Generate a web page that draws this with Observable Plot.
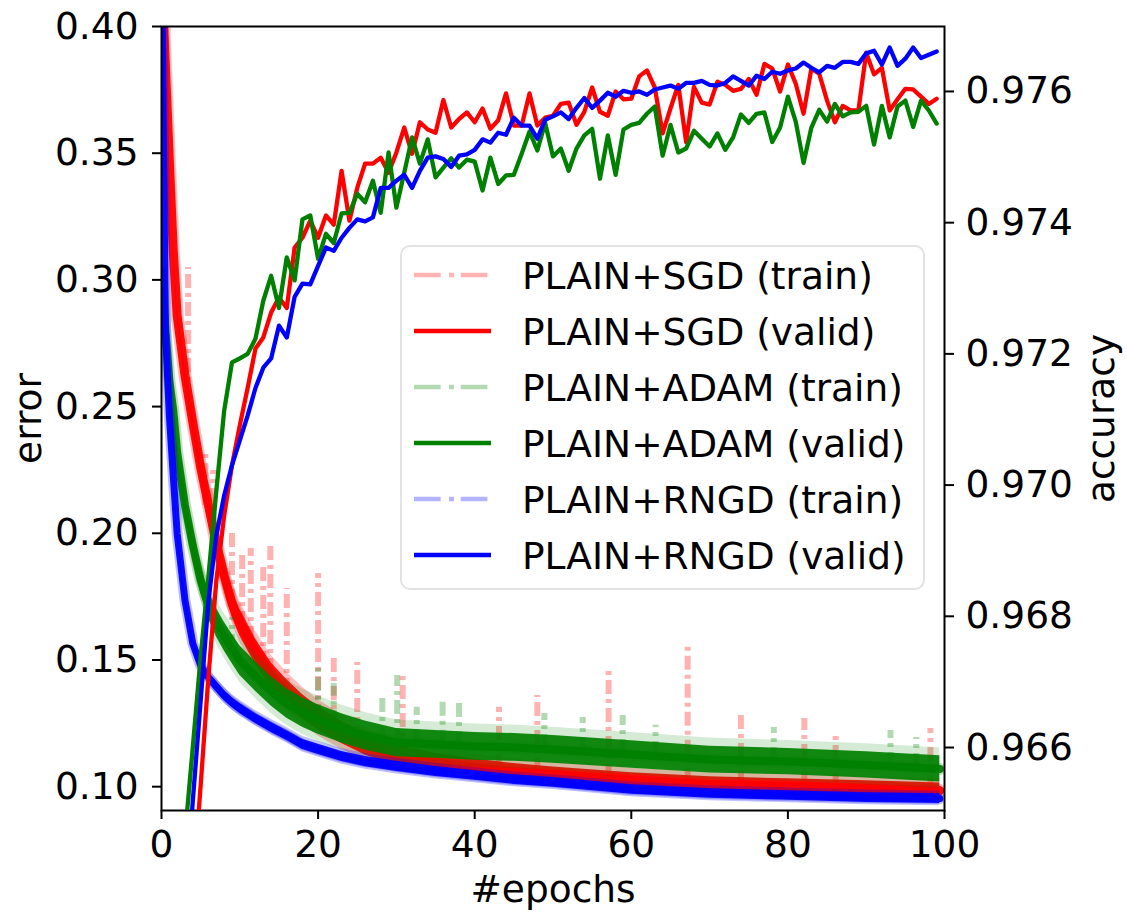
<!DOCTYPE html>
<html><head><meta charset="utf-8">
<script src="https://cdn.jsdelivr.net/npm/d3@7"></script>
<script src="https://cdn.jsdelivr.net/npm/@observablehq/plot@0.6"></script>
<style>
html,body{margin:0;padding:0;background:#fff;overflow:hidden;}
#wrap{position:relative;width:1127px;height:916px;background:#fff;}
#wrap > svg{position:absolute;left:0;top:0;}
</style></head>
<body><div id="wrap"></div>
<script>
// ---------- data ----------
const epochs = Array.from({length: 100}, (_, i) => i);

const accSGD = [0.95772,0.95925,0.96077,0.96229,0.96382,0.96542,0.96709,0.96854,0.96953,0.97030,
 0.97091,0.97148,0.97208,0.97225,0.97263,0.97286,0.97270,0.97362,0.97377,0.97403,
 0.97377,0.97411,0.97397,0.97479,0.97403,0.97453,0.97490,0.97490,0.97499,0.97476,
 0.97507,0.97545,0.97505,0.97553,0.97542,0.97537,0.97587,0.97545,0.97558,0.97568,
 0.97553,0.97574,0.97543,0.97556,0.97597,0.97548,0.97548,0.97597,0.97548,0.97560,
 0.97563,0.97581,0.97583,0.97549,0.97569,0.97606,0.97569,0.97563,0.97600,0.97588,
 0.97589,0.97623,0.97632,0.97606,0.97536,0.97574,0.97610,0.97523,0.97607,0.97583,
 0.97580,0.97615,0.97610,0.97601,0.97604,0.97619,0.97595,0.97642,0.97635,0.97600,
 0.97641,0.97612,0.97566,0.97635,0.97627,0.97586,0.97553,0.97578,0.97571,0.97571,
 0.97659,0.97626,0.97636,0.97571,0.97588,0.97604,0.97603,0.97592,0.97581,0.97589];

const accADAM = [0.96046,0.96184,0.96321,0.96466,0.96601,0.96738,0.96862,0.96991,0.97113,0.97187,
 0.97193,0.97200,0.97223,0.97281,0.97319,0.97270,0.97347,0.97312,0.97405,0.97411,
 0.97345,0.97383,0.97369,0.97414,0.97415,0.97444,0.97431,0.97464,0.97415,0.97507,
 0.97423,0.97476,0.97530,0.97490,0.97527,0.97469,0.97484,0.97498,0.97484,0.97496,
 0.97493,0.97449,0.97499,0.97459,0.97472,0.97473,0.97505,0.97539,0.97510,0.97552,
 0.97501,0.97513,0.97479,0.97513,0.97533,0.97543,0.97467,0.97533,0.97473,0.97542,
 0.97549,0.97552,0.97566,0.97577,0.97502,0.97549,0.97507,0.97513,0.97540,0.97528,
 0.97516,0.97536,0.97511,0.97530,0.97565,0.97552,0.97566,0.97568,0.97523,0.97545,
 0.97592,0.97554,0.97491,0.97545,0.97572,0.97554,0.97581,0.97562,0.97568,0.97569,
 0.97578,0.97519,0.97578,0.97530,0.97577,0.97586,0.97546,0.97586,0.97571,0.97551];

const accRNGD = [0.95848,0.96016,0.96184,0.96351,0.96519,0.96671,0.96824,0.96923,0.96984,0.97030,
 0.97068,0.97106,0.97148,0.97179,0.97193,0.97243,0.97225,0.97287,0.97307,0.97306,
 0.97334,0.97362,0.97357,0.97377,0.97392,0.97405,0.97402,0.97408,0.97453,0.97453,
 0.97464,0.97473,0.97453,0.97479,0.97499,0.97501,0.97497,0.97485,0.97502,0.97504,
 0.97511,0.97527,0.97522,0.97537,0.97534,0.97560,0.97548,0.97548,0.97528,0.97557,
 0.97562,0.97568,0.97558,0.97575,0.97590,0.97575,0.97586,0.97598,0.97592,0.97601,
 0.97598,0.97600,0.97595,0.97603,0.97606,0.97609,0.97604,0.97613,0.97613,0.97616,
 0.97610,0.97609,0.97613,0.97623,0.97616,0.97609,0.97624,0.97619,0.97630,0.97627,
 0.97632,0.97635,0.97644,0.97636,0.97629,0.97639,0.97636,0.97645,0.97645,0.97642,
 0.97658,0.97662,0.97641,0.97667,0.97639,0.97650,0.97667,0.97651,0.97656,0.97661];

// training error (dense per-iteration traces), read as centre of band + half spread
const trainEpochs = [0,0.5,1,1.5,2,3,4,5,6,7,8,9,10,12,14,16,18,20,23,26,30,35,40,45,50,60,70,80,90,99.4];
const errSGD  = [0.424,0.3842,0.3471,0.3116,0.2860,0.2623,0.2437,0.2260,0.2110,0.1960,0.1833,0.1723,0.1648,0.1533,0.1439,0.1372,0.1316,0.1269,0.1214,0.1167,0.1123,0.1096,0.1076,0.1060,0.1048,0.1025,0.1009,0.1001,0.0993,0.0985];
const errADAM = [0.3037,0.2800,0.2603,0.2485,0.2319,0.2110,0.1952,0.1814,0.1719,0.1648,0.1593,0.1545,0.1498,0.1435,0.1376,0.1328,0.1293,0.1265,0.1230,0.1202,0.1174,0.1167,0.1159,0.1155,0.1147,0.1127,0.1107,0.1099,0.1086,0.1070];
const errRNGD = [0.430,0.2800,0.2465,0.2228,0.1999,0.1735,0.1565,0.1478,0.1431,0.1395,0.1360,0.1332,0.1309,0.1269,0.1234,0.1202,0.1167,0.1147,0.1119,0.1099,0.1080,0.1060,0.1044,0.1028,0.1017,0.0989,0.0973,0.0965,0.0957,0.0953];
const spreadSGD  = [0.002,0.002,0.002,0.0025,0.003,0.0035,0.004,0.0045,0.005,0.005,0.0052,0.0052,0.0052,0.005,0.005,0.005,0.0048,0.0046,0.0044,0.0042,0.004,0.0036,0.0033,0.0031,0.003,0.003,0.003,0.003,0.003,0.003];
const spreadADAM = [0.002,0.003,0.003,0.0035,0.004,0.0045,0.005,0.0052,0.0055,0.0056,0.0057,0.0058,0.0058,0.0058,0.0058,0.0058,0.0058,0.0058,0.0058,0.0057,0.0056,0.0055,0.0055,0.0055,0.0055,0.0054,0.0053,0.0052,0.0052,0.0052];
const spreadRNGD = [0.0012,0.0012,0.0012,0.0015,0.0018,0.002,0.002,0.002,0.002,0.002,0.002,0.002,0.002,0.002,0.002,0.002,0.002,0.002,0.002,0.002,0.002,0.002,0.0019,0.0019,0.0019,0.0019,0.0019,0.0019,0.0019,0.0019];

// isolated spikes of the training traces
const spikeSGDEpoch = [3.4,5.6,6.6,9.0,10.3,11.4,13.0,13.9,16.0,20.0,22.0,25.0,30.8,43.1,48.0,57.1,67.2,74.0,82.1,86.1,98.2];
const spikeSGDTop   = [0.3049,0.2327,0.2248,0.1999,0.1920,0.1940,0.1881,0.1960,0.1782,0.1841,0.1506,0.1490,0.1439,0.1313,0.1360,0.1470,0.1565,0.1281,0.1269,0.1214,0.1230];
const spikeSGDBase  = [0.2524,0.2110,0.2011,0.1723,0.1636,0.1577,0.1478,0.1451,0.1372,0.1269,0.1230,0.1182,0.1123,0.1072,0.1056,0.1032,0.1017,0.1005,0.1001,0.0997,0.0989];
const spikeADAMEpoch = [9.0,20.0,22.0,28.2,30.1,32.6,35.9,38.0,48.9,53.8,58.9,63.1,78.2,93.1,96.4];
const spikeADAMTop   = [0.1668,0.1467,0.1407,0.1368,0.1439,0.1313,0.1352,0.1332,0.1289,0.1273,0.1281,0.1242,0.1234,0.1222,0.1194];
const spikeADAMBase  = [0.1545,0.1265,0.1246,0.1182,0.1174,0.1170,0.1167,0.1163,0.1151,0.1139,0.1131,0.1123,0.1099,0.1080,0.1076];

const xTicks = [0,20,40,60,80,100];
const errTicks = [0.10,0.15,0.20,0.25,0.30,0.35,0.40];
const accTicks = [0.966,0.968,0.970,0.972,0.974,0.976];
const legendLabels = ["PLAIN+SGD (train)","PLAIN+SGD (valid)","PLAIN+ADAM (train)","PLAIN+ADAM (valid)","PLAIN+RNGD (train)","PLAIN+RNGD (valid)"];

// ---------- build ----------
const W = 1127, H = 916;
const margins = {marginTop: 26, marginRight: 183, marginBottom: 106, marginLeft: 161};
const FS = 37.5;
const font = "'DejaVu Sans', 'Liberation Sans', sans-serif";

const series = [
  {name: "SGD", color: "#ff0000", err: errSGD, spread: spreadSGD, acc: accSGD,
   spE: spikeSGDEpoch, spT: spikeSGDTop, spB: spikeSGDBase, core: 9, halo: 13, haloOp: 0.25},
  {name: "ADAM", color: "#008000", err: errADAM, spread: spreadADAM, acc: accADAM,
   spE: spikeADAMEpoch, spT: spikeADAMTop, spB: spikeADAMBase, core: 8, halo: 12, haloOp: 0.16},
  {name: "RNGD", color: "#0000ff", err: errRNGD, spread: spreadRNGD, acc: accRNGD,
   spE: [], spT: [], spB: [], core: 7, halo: 11, haloOp: 0.25}
];

const trainMarks = [];
for (const s of series) {
  const rows = trainEpochs.map((e, i) => ({
    epoch: e, err: s.err[i],
    lo: s.err[i] - s.spread[i], hi: s.err[i] + s.spread[i],
    lo2: s.err[i] - 1.5 * s.spread[i], hi2: s.err[i] + 1.6 * s.spread[i]
  }));
  const spikes = s.spE.map((e, i) => ({epoch: e, top: s.spT[i], base: s.spB[i]}));
  trainMarks.push(
    Plot.areaY(rows, {x: "epoch", y1: "lo2", y2: "hi2", fill: s.color, fillOpacity: s.haloOp, clip: true}),
    Plot.line(rows, {x: "epoch", y: "err", stroke: s.color, strokeWidth: s.halo, strokeOpacity: 0.25, clip: true}),
    Plot.ruleX(spikes, {x: "epoch", y1: "base", y2: "top", stroke: s.color, strokeOpacity: 0.3, strokeWidth: 6,
      strokeDasharray: "14,5,4,5", clip: true}),
    Plot.areaY(rows, {x: "epoch", y1: "lo", y2: "hi", fill: s.color, fillOpacity: 0.92, clip: true}),
    Plot.line(rows, {x: "epoch", y: "err", stroke: s.color, strokeWidth: s.core, strokeOpacity: 0.95, clip: true})
  );
}

const errPlot = Plot.plot({
  width: W, height: H, ...margins,
  style: {fontFamily: font, fontSize: FS + "px", color: "#000", background: "white"},
  x: {domain: [0, 100]},
  y: {domain: [0.0906, 0.40]},
  marks: [
    ...trainMarks,
    Plot.axisX({ticks: xTicks, tickSize: 9, tickPadding: 11, tickFormat: d => String(d), label: null, strokeWidth: 2}),
    Plot.axisY({ticks: errTicks, tickSize: 9, tickPadding: 14, tickFormat: d3.format(".2f"), label: null, strokeWidth: 2}),
    Plot.text(["#epochs"], {frameAnchor: "bottom", dy: 79, lineAnchor: "middle", textAnchor: "middle", text: d => d, fontSize: FS}),
    Plot.text(["error"], {frameAnchor: "left", dx: -133, rotate: -90, lineAnchor: "middle", textAnchor: "middle", text: d => d, fontSize: FS}),
    Plot.frame({stroke: "#000", strokeWidth: 2})
  ]
});

const accRows = series.flatMap(s => epochs.map((e, i) => ({opt: s.name, color: s.color, epoch: e, acc: s.acc[i]})));

const accPlot = Plot.plot({
  width: W, height: H, ...margins,
  style: {fontFamily: font, fontSize: FS + "px", color: "#000", background: "transparent"},
  x: {domain: [0, 100], axis: null},
  y: {domain: [0.96504, 0.97699]},
  marks: [
    Plot.line(accRows, {x: "epoch", y: "acc", z: "opt", stroke: "color", strokeWidth: 4.3, clip: true}),
    Plot.axisY({anchor: "right", ticks: accTicks, tickSize: 9, tickPadding: 12, tickFormat: d3.format(".3f"), label: null, strokeWidth: 2}),
    Plot.text(["accuracy"], {frameAnchor: "right", dx: 157, rotate: -90, lineAnchor: "middle", textAnchor: "middle", text: d => d, fontSize: FS})
  ]
});

const wrap = document.getElementById("wrap");
wrap.appendChild(errPlot);
wrap.appendChild(accPlot);

// ---------- legend (inside the axes, upper right) ----------
const ns = "http://www.w3.org/2000/svg";
const leg = document.createElementNS(ns, "svg");
leg.setAttribute("width", W); leg.setAttribute("height", H);
leg.style.pointerEvents = "none";
const box = document.createElementNS(ns, "rect");
Object.entries({x: 401, y: 246, width: 523, height: 343, rx: 9, ry: 9, fill: "rgba(255,255,255,0.8)", stroke: "#e2e2e2", "stroke-width": 2})
  .forEach(([k, v]) => box.setAttribute(k, v));
leg.appendChild(box);
const legColors = ["#ffb3b3", "#ff0000", "#b3d9b3", "#008000", "#b3b3ff", "#0000ff"];
legendLabels.forEach((lab, i) => {
  const cy = 275 + 56 * i;
  const ln = document.createElementNS(ns, "line");
  Object.entries({x1: 414, x2: 491, y1: cy, y2: cy, stroke: legColors[i], "stroke-width": 4.5,
    "stroke-dasharray": i % 2 === 0 ? "26.7,8.3,5,6.7" : "none"}).forEach(([k, v]) => ln.setAttribute(k, v));
  leg.appendChild(ln);
  const tx = document.createElementNS(ns, "text");
  tx.setAttribute("x", 522); tx.setAttribute("y", cy + 13.7);
  tx.setAttribute("font-family", font); tx.setAttribute("font-size", FS);
  tx.setAttribute("fill", "#000");
  tx.textContent = lab;
  leg.appendChild(tx);
});
wrap.appendChild(leg);
</script>
</body></html>
